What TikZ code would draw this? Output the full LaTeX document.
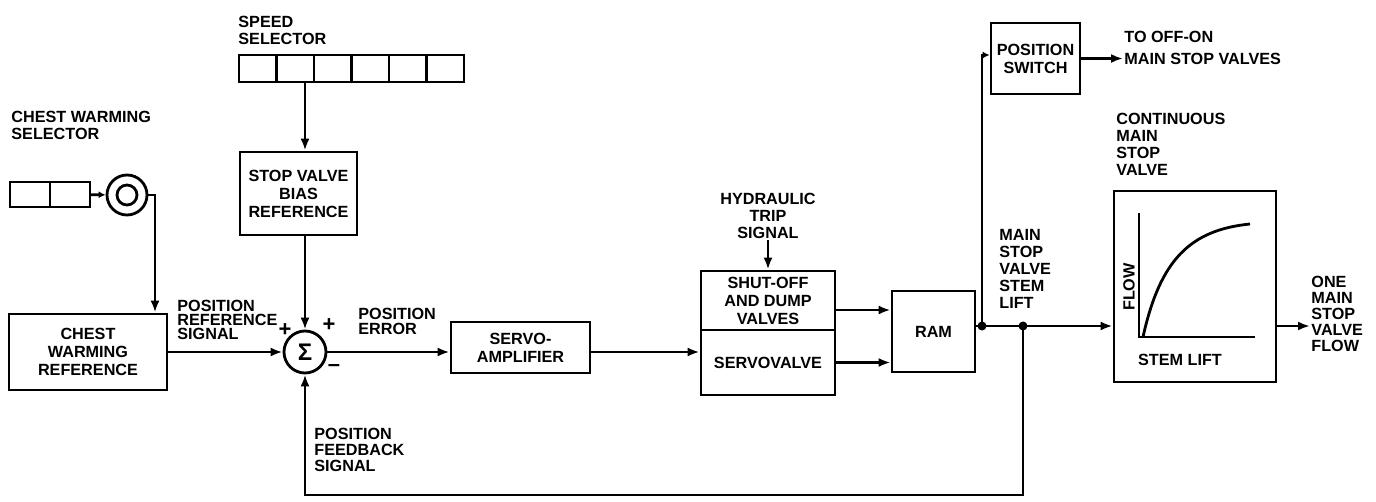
\documentclass[tikz,border=0pt]{standalone}
\usepackage{fontspec}
\setmainfont{Liberation Sans}
\usetikzlibrary{arrows.meta,positioning}
\newcommand{\lbl}{\fontsize{8.1}{8.5}\selectfont\bfseries}
\newcommand{\boxlbl}{\fontsize{8.1}{9}\selectfont\bfseries}
\newcommand{\sgn}{\fontsize{11}{11}\selectfont\bfseries}

\begin{document}
\begin{tikzpicture}[x=0.5pt,y=-0.5pt,line width=1.4pt,
  box/.style={rectangle,draw,line width=1.4pt,align=center,inner sep=1pt,font=\boxlbl},
  cell/.style={rectangle,draw,line width=1.2pt,inner sep=0pt,minimum width=18.75pt,minimum height=13.5pt},
  lab/.style={align=left,anchor=north west,inner sep=0pt,font=\lbl},
  arr/.style={line width=1.4pt,-{Latex[length=6pt,width=4.5pt]}},
  arrs/.style={line width=1.4pt,-{Latex[length=3.5pt,width=3.5pt]}},
  dot/.style={circle,fill,inner sep=0pt,minimum size=4.5pt}]
  \useasboundingbox (0,0) rectangle (1376,502);
  % selectors
  \node[lab] (cwsellab) at (10,110) {CHEST WARMING\\SELECTOR};
  \node[cell,minimum width=20pt,minimum height=12.5pt] (cw1) at (30,194.5) {};
  \node[cell,minimum width=20pt,minimum height=12.5pt] (cw2) at (70,194.5) {};
  \node[circle,draw,minimum size=20pt,inner sep=0pt] (dial) at (127,195) {};
  \node[circle,draw,minimum size=10pt,inner sep=0pt] (dialin) at (dial) {};
  \node[lab] (spdlab) at (237,15) {SPEED\\SELECTOR};
  \foreach \i in {0,...,5}
    \node[cell] (spd\i) at ({257.75+37.5*\i},68.5) {};
  % blocks
  \node[box,minimum width=58.5pt,minimum height=41.5pt] (svb) at (298.5,193.5) {STOP VALVE\\BIAS\\REFERENCE};
  \node[box,minimum width=79pt,minimum height=38pt] (cwr) at (88,352) {CHEST\\WARMING\\REFERENCE};
  \node[circle,draw,minimum size=21pt,inner sep=0pt,font=\fontsize{12}{12}\selectfont\bfseries] (sum) at (305,352) {Σ};
  \node[box,minimum width=69.5pt,minimum height=25.5pt] (samp) at (520.5,347.5) {SERVO-\\AMPLIFIER};
  \node[box,minimum width=67pt,minimum height=29.5pt] (shut) at (768,300.5) {SHUT-OFF\\AND DUMP\\VALVES};
  \node[box,minimum width=67pt,minimum height=32.5pt] (srv) at (768,362.5) {SERVOVALVE};
  \node[box,minimum width=41.5pt,minimum height=40.5pt] (ram) at (933.5,331.5) {RAM};
  \node[box,minimum width=44.5pt,minimum height=35.5pt] (psw) at (1035.5,58.5) {POSITION\\SWITCH};
  \node[box,minimum width=81pt,minimum height=95.5pt] (cmv) at (1195,286.5) {};
  \coordinate (j1) at (982,326);
  \coordinate (j2) at (1023,326);
  \coordinate (fbk) at (1023,495);
  % labels
  \node[lab,font={\fontsize{8.1}{7}\selectfont\bfseries}] (reflab) at (176,299) {POSITION\\REFERENCE\\SIGNAL};
  \node[font=\sgn,inner sep=0pt] (plus1) at (285,330) {+};
  \node[font=\sgn,inner sep=0pt] (plus2) at (329,325) {+};
  \node[font=\sgn,inner sep=0pt] (minus) at (334,368) {--};
  \node[lab,font={\fontsize{8.1}{7.5}\selectfont\bfseries}] (errlab) at (357,307) {POSITION\\ERROR};
  \node[lab,align=center,anchor=north] (hyd) at (768,192) {HYDRAULIC\\TRIP\\SIGNAL};
  \node[lab,font={\fontsize{8.1}{11}\selectfont\bfseries}] (offon) at (1123,30) {TO OFF-ON\\MAIN STOP VALVES};
  \node[lab] (liftlab) at (998,228) {MAIN\\STOP\\VALVE\\STEM\\LIFT};
  \node[lab] (cmvlab) at (1115,112) {CONTINUOUS\\MAIN\\STOP\\VALVE};
  \node[lab,font={\fontsize{8.1}{8}\selectfont\bfseries}] (onelab) at (1310,275) {ONE\\MAIN\\STOP\\VALVE\\FLOW};
  \node[lab,font={\fontsize{8.1}{8}\selectfont\bfseries}] (fblab) at (313,427) {POSITION\\FEEDBACK\\SIGNAL};
  % valve characteristic
  \draw (1139,213) -- (1139,337) -- (1255,337);
  \draw (1143,337) .. controls (1160,260) and (1190,230) .. (1250,224);
  \node[font=\lbl,rotate=90] (flowlab) at (1129,287) {FLOW};
  \node[font=\lbl] (stemlab) at (1180,360) {STEM LIFT};
  % connections
  \draw[arrs] (cw2) -- (dial);
  \draw[arr] (dial.east) -| ([xshift=33.5pt]cwr.north);
  \draw[arr] (spd1.south -| sum) -- (svb.north -| sum);
  \draw[arr] (svb.south -| sum) -- (sum.north);
  \draw[arr] (cwr.east) -- (sum.west);
  \draw[arr] (sum.east) -- (sum.east -| samp.west);
  \draw[arr] (samp.east |- sum) -- (srv.west |- sum);
  \draw[arr] (hyd.south) -- (shut.north);
  \draw[arr] ([yshift=-4.75pt]shut.east) -- ([yshift=-4.75pt]shut.east -| ram.west);
  \draw[arr] (srv.east) -- (srv.east -| ram.west);
  \draw (ram.east |- j1) -- (j1);
  \draw[arr] (j1) -- (j1 -| cmv.west);
  \draw[arrs] (j1) |- ([yshift=1.75pt]psw.west);
  \draw[arr] (psw.east) -- (psw.east -| offon.west);
  \draw[arr] (cmv.east |- j1) -- (j1 -| onelab.west);
  \draw[arr] (j2) -- (fbk) -| (sum.south);
  \node[dot] (d1) at (j1) {};
  \node[dot] (d2) at (j2) {};
\end{tikzpicture}
\end{document}
